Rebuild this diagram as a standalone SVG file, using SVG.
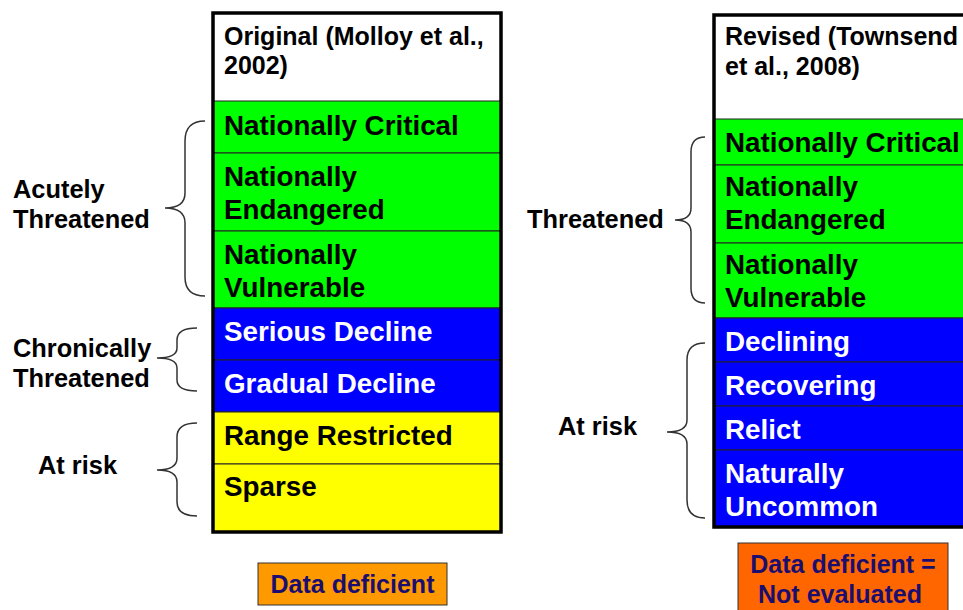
<svg xmlns="http://www.w3.org/2000/svg" width="963" height="610" viewBox="0 0 963 610">
<style>
text{font-family:"Liberation Sans",Arial,sans-serif;font-weight:bold}
.cell{font-size:27.8px}
.hdr{font-size:25px;fill:#000}
.lbl{font-size:25.4px;fill:#000}
.dk{fill:#000}
.wt{fill:#fff}
.g{fill:#00ff00;stroke:#222;stroke-width:1}
.b{fill:#0000ff;stroke:#222;stroke-width:1}
.y{fill:#ffff00;stroke:#222;stroke-width:1}
.frame{fill:none;stroke:#000;stroke-width:3.5}
.brace{fill:none;stroke:#333;stroke-width:1.5}
.dd{font-size:25px;fill:#1a0f6f}
</style>
<rect width="963" height="610" fill="#fff"/>

<g id="original-column">
<rect x="213" y="13" width="288" height="88" fill="#fff"/>
<text class="hdr" x="224" y="45">Original (Molloy et al.,</text>
<text class="hdr" x="224" y="74">2002)</text>
<g id="o-critical"><rect class="g" x="213" y="101" width="288" height="52"/><text class="cell dk" x="224" y="135">Nationally Critical</text></g>
<g id="o-endangered"><rect class="g" x="213" y="153" width="288" height="78"/><text class="cell dk" x="224" y="186">Nationally</text><text class="cell dk" x="224" y="219">Endangered</text></g>
<g id="o-vulnerable"><rect class="g" x="213" y="231" width="288" height="77"/><text class="cell dk" x="224" y="264">Nationally</text><text class="cell dk" x="224" y="297">Vulnerable</text></g>
<g id="o-serious"><rect class="b" x="213" y="308" width="288" height="52"/><text class="cell wt" x="224" y="341">Serious Decline</text></g>
<g id="o-gradual"><rect class="b" x="213" y="360" width="288" height="52"/><text class="cell wt" x="224" y="393">Gradual Decline</text></g>
<g id="o-range"><rect class="y" x="213" y="412" width="288" height="52"/><text class="cell dk" x="224" y="445">Range Restricted</text></g>
<g id="o-sparse"><rect class="y" x="213" y="464" width="288" height="68"/><text class="cell dk" x="224" y="496">Sparse</text></g>
<rect class="frame" x="213" y="13" width="288" height="519"/>
</g>

<g id="revised-column">
<rect x="714" y="15" width="260" height="104" fill="#fff"/>
<text class="hdr" x="725" y="45">Revised (Townsend</text>
<text class="hdr" x="725" y="75">et al., 2008)</text>
<g id="r-critical"><rect class="g" x="714" y="119" width="260" height="46"/><text class="cell dk" x="725" y="152">Nationally Critical</text></g>
<g id="r-endangered"><rect class="g" x="714" y="165" width="260" height="78"/><text class="cell dk" x="725" y="196">Nationally</text><text class="cell dk" x="725" y="229">Endangered</text></g>
<g id="r-vulnerable"><rect class="g" x="714" y="243" width="260" height="75"/><text class="cell dk" x="725" y="274">Nationally</text><text class="cell dk" x="725" y="307">Vulnerable</text></g>
<g id="r-declining"><rect class="b" x="714" y="318" width="260" height="44"/><text class="cell wt" x="725" y="351">Declining</text></g>
<g id="r-recovering"><rect class="b" x="714" y="362" width="260" height="44"/><text class="cell wt" x="725" y="395">Recovering</text></g>
<g id="r-relict"><rect class="b" x="714" y="406" width="260" height="44"/><text class="cell wt" x="725" y="439">Relict</text></g>
<g id="r-uncommon"><rect class="b" x="714" y="450" width="260" height="77"/><text class="cell wt" x="725" y="483">Naturally</text><text class="cell wt" x="725" y="516">Uncommon</text></g>
<rect class="frame" x="714" y="15" width="260" height="512"/>
</g>

<g id="connectors">
<path class="brace" d="M205,121 Q185,121 185,141 L185,193 Q185,208 165,208 Q185,208 185,223 L185,277 Q185,296 205,296"/>
<path class="brace" d="M197,328 Q177,328 177,340 L177,348 Q177,358 157,358 Q177,358 177,368 L177,380 Q177,391 197,391"/>
<path class="brace" d="M197,423 Q177,423 177,437 L177,458 Q177,470 157,470 Q177,470 177,482 L177,502 Q177,516 197,516"/>
<path class="brace" d="M705,137 Q691,137 691,152 L691,208 Q691,220 675,220 Q691,220 691,232 L691,288 Q691,303 705,303"/>
<path class="brace" d="M705,343 Q687,343 687,360 L687,420 Q687,432 667,432 Q687,432 687,444 L687,500 Q687,518 705,518"/>
</g>

<g id="label-acutely"><text class="lbl" x="13" y="198">Acutely</text><text class="lbl" x="13" y="228">Threatened</text></g>
<g id="label-chronically"><text class="lbl" x="13" y="357">Chronically</text><text class="lbl" x="13" y="387">Threatened</text></g>
<g id="label-atrisk-left"><text class="lbl" x="38" y="474">At risk</text></g>
<g id="label-threatened-right"><text class="lbl" x="527" y="228">Threatened</text></g>
<g id="label-atrisk-right"><text class="lbl" x="558" y="435">At risk</text></g>

<g id="dd-left">
<rect x="258" y="563" width="189" height="42" fill="#ff9900" stroke="#333" stroke-width="1"/>
<text class="dd" x="352.5" y="593" text-anchor="middle">Data deficient</text>
</g>
<g id="dd-right">
<rect x="738" y="543" width="210" height="75" fill="#ff6600" stroke="#333" stroke-width="1"/>
<text class="dd" x="843" y="573" text-anchor="middle">Data deficient =</text>
<text class="dd" x="840" y="603" text-anchor="middle">Not evaluated</text>
</g>
</svg>
